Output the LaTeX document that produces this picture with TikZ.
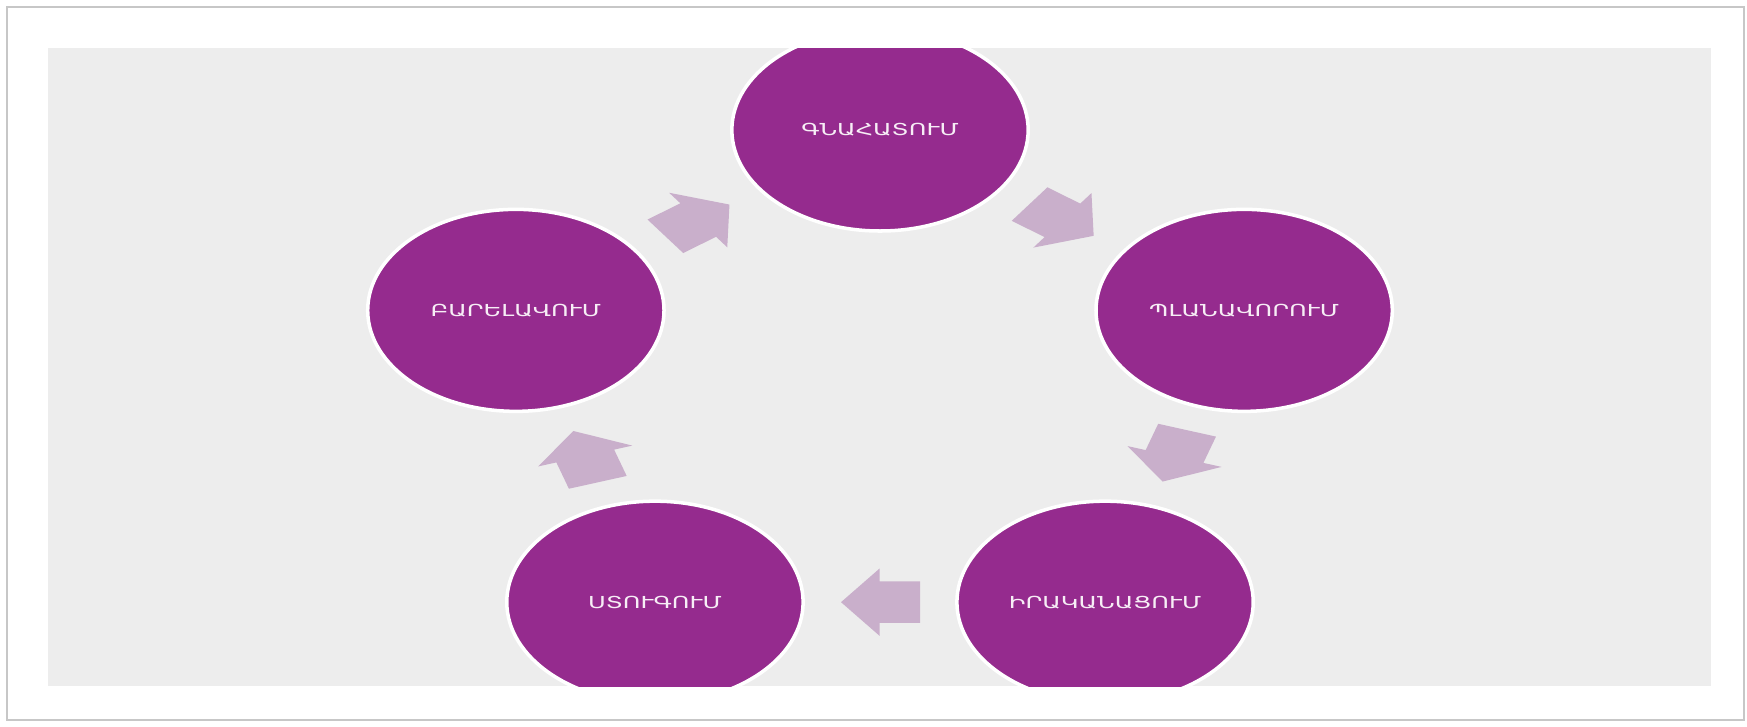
\documentclass[tikz,border=0pt]{standalone}
\usepackage{fontspec}
\setmainfont{DejaVu Sans}
\usetikzlibrary{shapes.arrows, calc}
\definecolor{stagepurple}{RGB}{149,43,142}
\definecolor{arrowlilac}{RGB}{201,175,203}
\definecolor{panelgray}{RGB}{237,237,237}

\begin{document}
\begin{tikzpicture}[
  stage/.style={circle, minimum size=2.02cm, inner sep=0pt, fill=stagepurple, draw=white, line width=1pt, text=white!92!stagepurple, font=\fontsize{4.7pt}{5pt}\selectfont},
  turn/.style={single arrow, minimum height=0.54cm, minimum width=0.67cm, single arrow head extend=0.13cm, single arrow tip angle=104, inner xsep=0pt, inner ysep=0.2cm, fill=arrowlilac}
]
  \useasboundingbox (0,0) rectangle (17.47,7.26);
  \fill[white] (0,0) rectangle (17.47,7.26);
  \draw[black!22, line width=0.7pt] (0.07,0.06) rectangle (17.44,7.19);
  \fill[panelgray] (0.48,0.40) rectangle (17.11,6.78);
  \begin{scope}
    \clip (0.48,0.40) rectangle (17.11,6.78);
    \begin{scope}[shift={(8.80,3.35)}, xscale=1.467, transform shape]
      \node[stage] (G) at (90:2.61) {ԳՆԱՀԱՏՈՒՄ};
      \node[stage] (P) at (18:2.61) {ՊԼԱՆԱՎՈՐՈՒՄ};
      \node[stage] (I) at (-54:2.61) {ԻՐԱԿԱՆԱՑՈՒՄ};
      \node[stage] (S) at (-126:2.61) {ՍՏՈՒԳՈՒՄ};
      \node[stage] (B) at (162:2.61) {ԲԱՐԵԼԱՎՈՒՄ};
      \node[turn, rotate=-36, xshift=-0.085cm] (GP) at ($(G)!0.5!(P)$) {};
      \node[turn, rotate=-108, xshift=-0.085cm] (PI) at ($(P)!0.5!(I)$) {};
      \node[turn, rotate=180, xshift=-0.085cm] (IS) at ($(I)!0.5!(S)$) {};
      \node[turn, rotate=108, xshift=-0.085cm] (SB) at ($(S)!0.5!(B)$) {};
      \node[turn, rotate=36, xshift=-0.085cm] (BG) at ($(B)!0.5!(G)$) {};
    \end{scope}
  \end{scope}
\end{tikzpicture}
\end{document}
